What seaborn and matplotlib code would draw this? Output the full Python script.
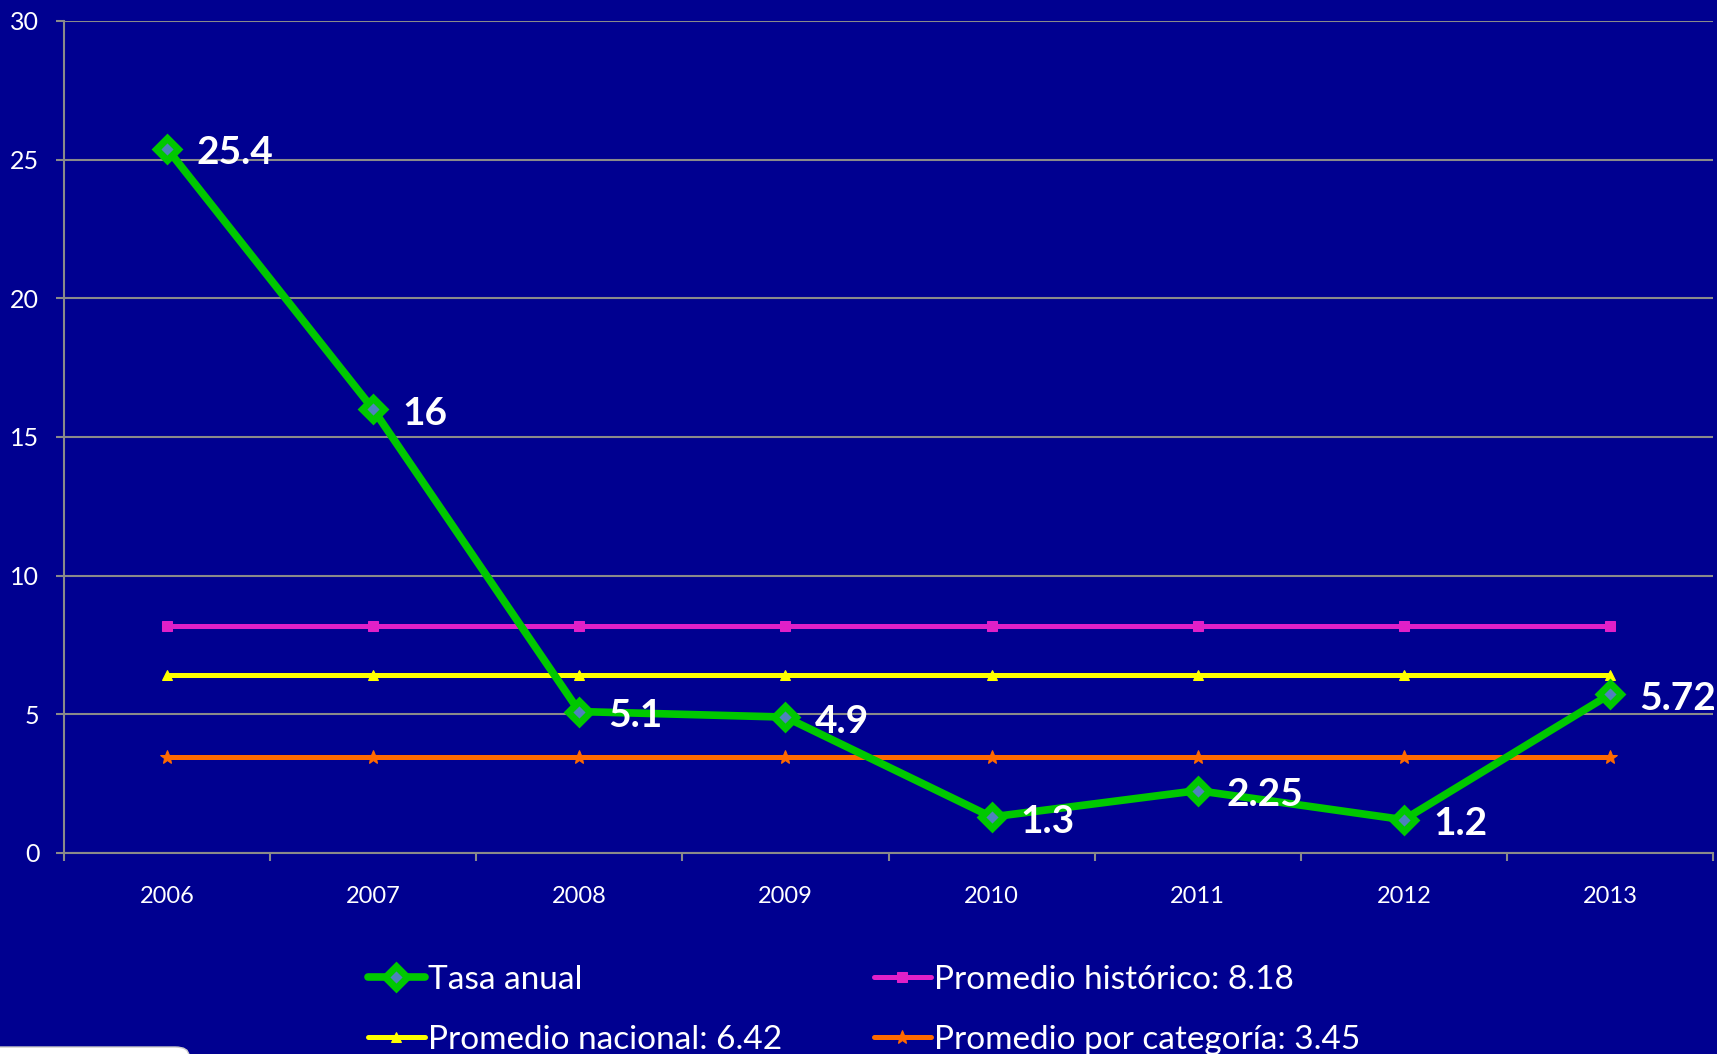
import matplotlib
matplotlib.use("Agg")
import matplotlib.pyplot as plt
import seaborn as sns
import pandas as pd
from matplotlib.patches import FancyBboxPatch

years = ["2006", "2007", "2008", "2009", "2010", "2011", "2012", "2013"]
tasa_anual = [25.4, 16, 5.1, 4.9, 1.3, 2.25, 1.2, 5.72]
prom_historico = [8.18] * 8
prom_nacional = [6.42] * 8
prom_categoria = [3.45] * 8
labels = ["Tasa anual", "Promedio histórico: 8.18",
          "Promedio nacional: 6.42", "Promedio por categoría: 3.45"]
yticks = [0, 5, 10, 15, 20, 25, 30]

BG = "#000090"
GRID = "#8A8A8A"

sns.set_theme(style="white")
plt.rcParams['font.family'] = ['Lato', 'DejaVu Sans']

fig = plt.figure(figsize=(17.17, 10.54), dpi=100, facecolor=BG)
ax = fig.add_axes([64/1717, 1-853/1054, (1713-64)/1717, (853-21)/1054])
ax.set_facecolor(BG)

df = pd.DataFrame({"year": years, "tasa": tasa_anual, "hist": prom_historico,
                   "nac": prom_nacional, "cat": prom_categoria})

sns.lineplot(data=df, x="year", y="hist", ax=ax, color="#E020C8", lw=3.6,
             marker="s", markersize=7, markeredgecolor="#E020C8",
             label=labels[1], zorder=3)
sns.lineplot(data=df, x="year", y="nac", ax=ax, color="#FFFF00", lw=3.6,
             marker="^", markersize=7, markeredgecolor="#FFFF00",
             label=labels[2], zorder=3)
sns.lineplot(data=df, x="year", y="cat", ax=ax, color="#FF6A00", lw=3.6,
             marker="*", markersize=10, markeredgecolor="#FF6A00",
             label=labels[3], zorder=3)
sns.lineplot(data=df, x="year", y="tasa", ax=ax, color="#00C800", lw=5.5,
             marker="D", markersize=11, markerfacecolor="#4F81BD",
             markeredgecolor="#00C800", markeredgewidth=5,
             label=labels[0], zorder=4)

for i, v in enumerate(tasa_anual):
    ax.annotate(f"{v:g}", (i, v), xytext=(21, -3), textcoords="offset points",
                ha="left", va="center", color="white", fontsize=28,
                fontweight="bold", zorder=5)

ax.set_xlim(-0.5, 7.5)
ax.set_ylim(0, 30)
ax.set_yticks(yticks)
ax.set_xticks(range(len(years)))
ax.set_xticklabels(years)
ax.set_xticks([i - 0.5 for i in range(len(years) + 1)], minor=True)
ax.set_xlabel("")
ax.set_ylabel("")

ax.grid(axis="y", color=GRID, lw=1.5, zorder=0)
ax.grid(axis="x", visible=False)
for s in ["top", "right"]:
    ax.spines[s].set_visible(False)
for s in ["left", "bottom"]:
    ax.spines[s].set_visible(True)
    ax.spines[s].set_color(GRID)
    ax.spines[s].set_linewidth(1.5)

ax.tick_params(axis="y", which="major", direction="out", length=5.8, width=1.5,
               color=GRID, pad=12, labelsize=18, labelcolor="white", left=True)
ax.tick_params(axis="x", which="major", length=0, pad=24, labelsize=17,
               labelcolor="white")
ax.tick_params(axis="x", which="minor", direction="out", length=5.8, width=1.5,
               color=GRID, bottom=True)

h, l = ax.get_legend_handles_labels()
lookup = dict(zip(l, h))
order = [labels[0], labels[2], labels[1], labels[3]]
leg = ax.legend([lookup[k] for k in order], order, ncol=2, frameon=False,
                loc="upper left", bbox_to_anchor=(368/1717, 1-965/1054),
                bbox_transform=fig.transFigure, borderpad=0, borderaxespad=0,
                handlelength=1.7, handletextpad=0.1, columnspacing=2.75,
                labelspacing=0.9, numpoints=1,
                prop={"family": ["Lato", "DejaVu Sans"], "size": 24})
for t in leg.get_texts():
    t.set_color("white")

box = FancyBboxPatch((-0.02, -0.03), 0.13, 1-1047/1054 + 0.03,
                     boxstyle="round,pad=0,rounding_size=0.008",
                     transform=fig.transFigure, facecolor="white",
                     edgecolor="#CCCCCC", lw=1, zorder=10)
fig.patches.append(box)

fig.savefig("out.png", dpi=100, facecolor=BG)
